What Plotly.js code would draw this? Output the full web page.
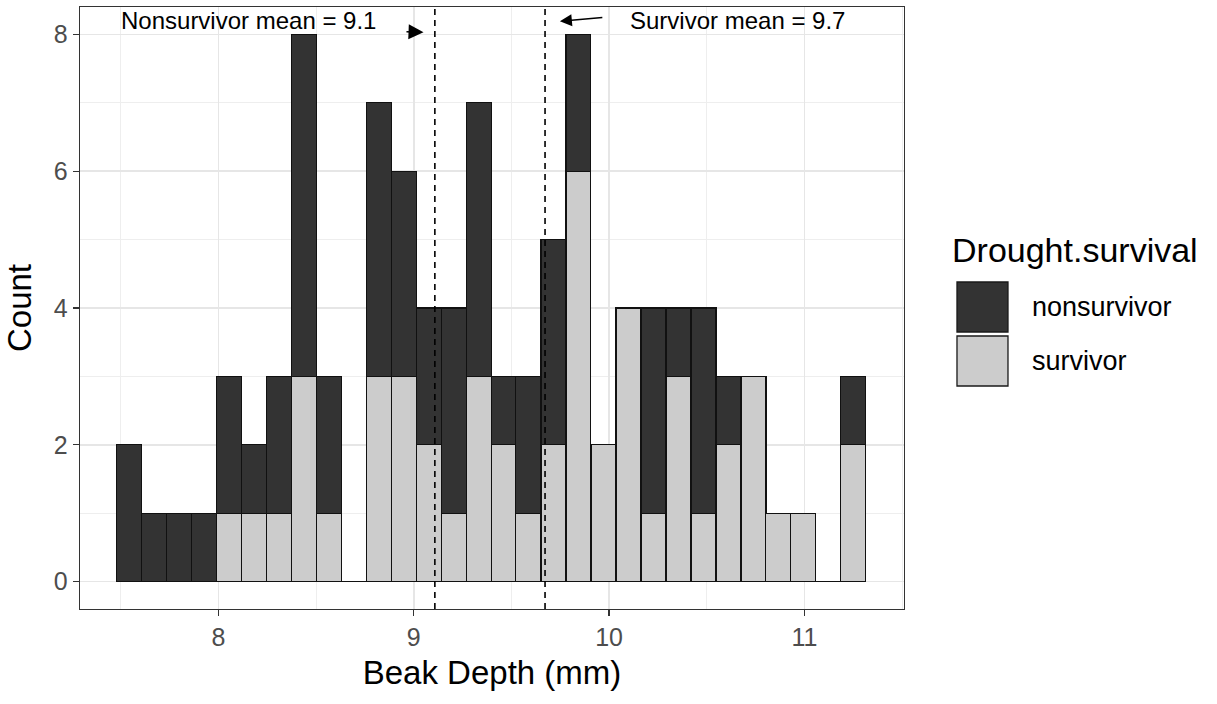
<!DOCTYPE html>
<html>
<head>
<meta charset="utf-8">
<script src="https://cdn.plot.ly/plotly-3.0.1.min.js"></script>
<style>
  html, body { margin: 0; padding: 0; background: #ffffff; }
  #chart { width: 1217px; height: 704px; }
</style>
</head>
<body>
<div id="chart"></div>
<script>
// Bin centres of the histogram (Beak Depth, mm)
const binCenters = [7.541, 7.669, 7.797, 7.925, 8.053, 8.181, 8.308, 8.436, 8.564, 8.692,
                    8.820, 8.948, 9.076, 9.204, 9.332, 9.460, 9.587, 9.715, 9.843, 9.971,
                    10.099, 10.227, 10.355, 10.483, 10.611, 10.739, 10.866, 10.994, 11.122, 11.250];
const binWidth = 0.1279;
// Counts per bin
const survivorCounts    = [0, 0, 0, 0, 1, 1, 1, 3, 1, 0, 3, 3, 2, 1, 3, 2, 1, 2, 6, 2, 4, 1, 3, 1, 2, 3, 1, 1, 0, 2];
const nonsurvivorCounts = [2, 1, 1, 1, 2, 1, 2, 5, 2, 0, 4, 3, 2, 3, 4, 1, 2, 3, 2, 0, 0, 3, 1, 3, 1, 0, 0, 0, 0, 1];
// Group means
const nonsurvivorMean = 9.108;
const survivorMean = 9.672;
const groupNames = ['nonsurvivor', 'survivor'];
const groupColors = ['#333333', '#cccccc'];
const xTicks = [8, 9, 10, 11];
const yTicks = [0, 2, 4, 6, 8];

const FONT = 'Liberation Sans, Arial, sans-serif';

const traces = [
  {
    type: 'bar', name: groupNames[1], x: binCenters, y: survivorCounts,
    width: binCenters.map(() => binWidth),
    marker: { color: groupColors[1], line: { color: '#111111', width: 1.1 } },
    showlegend: false, hoverinfo: 'x+y'
  },
  {
    type: 'bar', name: groupNames[0], x: binCenters, y: nonsurvivorCounts,
    width: binCenters.map(() => binWidth),
    marker: { color: groupColors[0], line: { color: '#111111', width: 1.1 } },
    showlegend: false, hoverinfo: 'x+y'
  }
];

const shapes = [
  { type: 'line', xref: 'x', yref: 'paper', x0: nonsurvivorMean, x1: nonsurvivorMean, y0: 0, y1: 1,
    line: { color: '#000000', width: 1.6, dash: '6px,5px' } },
  { type: 'line', xref: 'x', yref: 'paper', x0: survivorMean, x1: survivorMean, y0: 0, y1: 1,
    line: { color: '#000000', width: 1.6, dash: '6px,5px' } },
  // legend keys
  { type: 'rect', xref: 'paper', yref: 'paper', x0: 1.0643, x1: 1.1262, y0: 0.4601, y1: 0.5432,
    fillcolor: groupColors[0], line: { color: '#1a1a1a', width: 1.3 } },
  { type: 'rect', xref: 'paper', yref: 'paper', x0: 1.0643, x1: 1.1262, y0: 0.3704, y1: 0.4535,
    fillcolor: groupColors[1], line: { color: '#1a1a1a', width: 1.3 } }
];

const annotations = [
  { x: 8.153, y: 8.205, xref: 'x', yref: 'y', text: 'Nonsurvivor mean = 9.1', showarrow: false,
    font: { family: FONT, size: 24, color: '#000000' } },
  { x: 10.658, y: 8.205, xref: 'x', yref: 'y', text: 'Survivor mean = 9.7', showarrow: false,
    font: { family: FONT, size: 24, color: '#000000' } },
  { x: 9.05, y: 8.03, ax: 8.955, ay: 8.04, xref: 'x', yref: 'y', axref: 'x', ayref: 'y',
    text: '', showarrow: true, arrowhead: 2, arrowsize: 2.0, arrowwidth: 1.5, arrowcolor: '#000000' },
  { x: 9.748, y: 8.19, ax: 9.973, ay: 8.249, xref: 'x', yref: 'y', axref: 'x', ayref: 'y',
    text: '', showarrow: true, arrowhead: 2, arrowsize: 1.6, arrowwidth: 1.5, arrowcolor: '#000000' },
  // legend texts
  { x: 1.0558, y: 0.5963, xref: 'paper', yref: 'paper', xanchor: 'left', yanchor: 'middle',
    text: 'Drought.survival', showarrow: false, font: { family: FONT, size: 34, color: '#000000' } },
  { x: 1.1529, y: 0.5016, xref: 'paper', yref: 'paper', xanchor: 'left', yanchor: 'middle',
    text: groupNames[0], showarrow: false, font: { family: FONT, size: 27, color: '#000000' } },
  { x: 1.1529, y: 0.4120, xref: 'paper', yref: 'paper', xanchor: 'left', yanchor: 'middle',
    text: groupNames[1], showarrow: false, font: { family: FONT, size: 27, color: '#000000' } }
];

const layout = {
  width: 1217, height: 704,
  margin: { l: 80, r: 313, t: 7, b: 95 },
  paper_bgcolor: '#ffffff', plot_bgcolor: '#ffffff',
  barmode: 'stack', bargap: 0,
  showlegend: false,
  font: { family: FONT, color: '#000000' },
  xaxis: {
    range: [7.2915, 11.5095], tickvals: xTicks, ticktext: xTicks.map(String),
    showgrid: true, gridcolor: '#e6e6e6', gridwidth: 1.5, zeroline: false,
    minor: { dtick: 0.5, tick0: 7.5, showgrid: true, gridcolor: '#eeeeee', gridwidth: 1, ticks: '' },
    showline: true, mirror: true, linecolor: '#333333', linewidth: 1.3,
    ticks: 'outside', ticklen: 6, tickwidth: 1.3, tickcolor: '#333333',
    tickfont: { family: FONT, size: 25, color: '#4d4d4d' },
    title: { text: 'Beak Depth (mm)', font: { family: FONT, size: 33, color: '#000000' }, standoff: 10 }
  },
  yaxis: {
    range: [-0.4, 8.4], tickvals: yTicks, ticktext: yTicks.map(String),
    showgrid: true, gridcolor: '#e6e6e6', gridwidth: 1.5, zeroline: false,
    minor: { dtick: 1, tick0: 1, showgrid: true, gridcolor: '#eeeeee', gridwidth: 1, ticks: '' },
    showline: true, mirror: true, linecolor: '#333333', linewidth: 1.3,
    ticks: 'outside', ticklen: 6, tickwidth: 1.3, tickcolor: '#333333',
    tickfont: { family: FONT, size: 25, color: '#4d4d4d' },
    title: { text: 'Count', font: { family: FONT, size: 33, color: '#000000' }, standoff: 12 }
  },
  shapes: shapes,
  annotations: annotations
};

Plotly.newPlot('chart', traces, layout, { displayModeBar: false, staticPlot: true });
</script>
</body>
</html>
